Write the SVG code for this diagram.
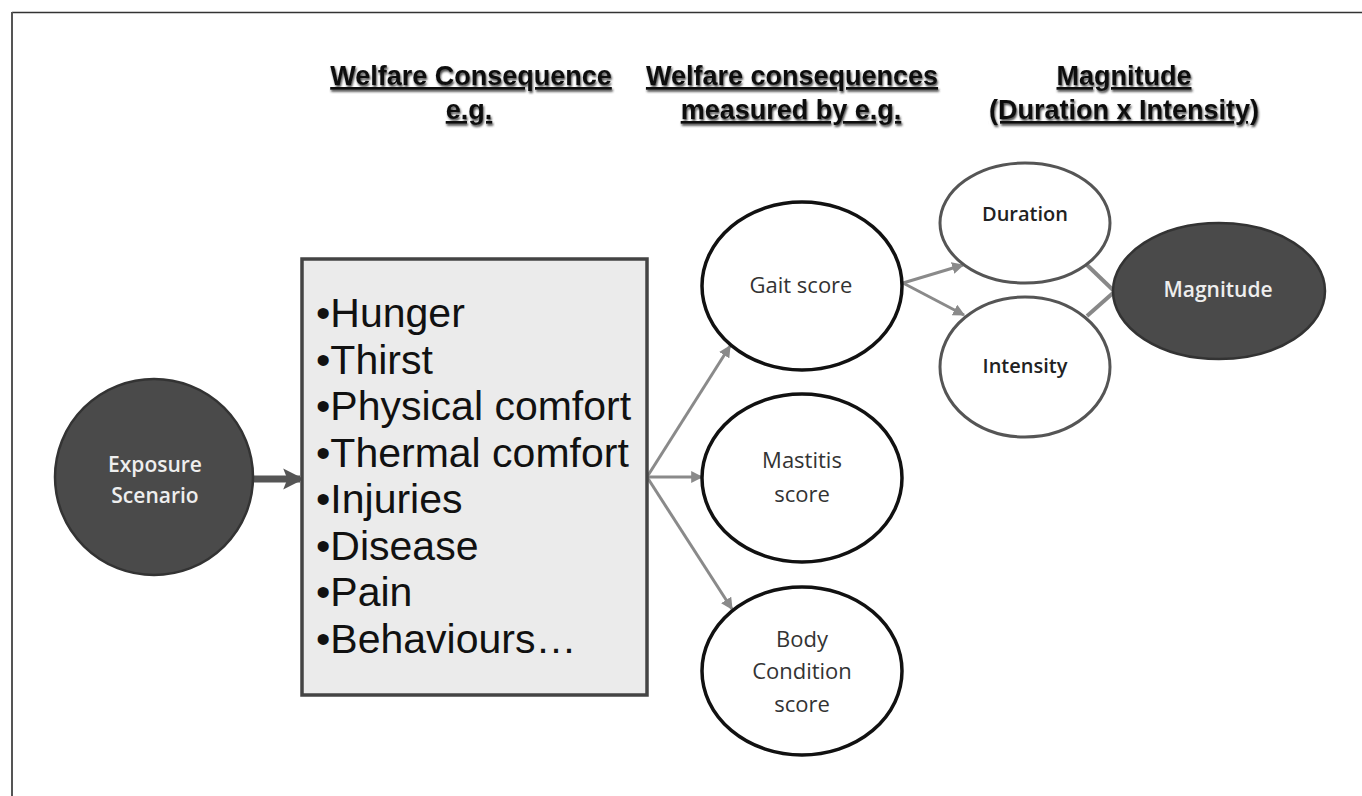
<svg xmlns="http://www.w3.org/2000/svg" width="1362" height="796" viewBox="0 0 1362 796">
<defs>
<style>
.hdr{font-family:"Liberation Sans",Arial,sans-serif;font-weight:bold;font-size:27px;fill:#111;text-anchor:middle;text-decoration:underline;filter:url(#sh)}
.lst{font-family:"Liberation Sans",Arial,sans-serif;font-size:41px;fill:#111}
.lbl{font-family:"Open Sans",sans-serif;font-size:22px;fill:#333;text-anchor:middle}
.lbl2{font-family:"Open Sans",sans-serif;font-size:20px;font-weight:600;fill:#222;text-anchor:middle}
.wht{font-family:"Open Sans",sans-serif;font-size:21px;font-weight:600;fill:#eee;text-anchor:middle}
.blk{fill:#fff;stroke:#111;stroke-width:3.5}
.gry{fill:#fff;stroke:#555;stroke-width:3}
.dark{fill:#4a4a4a;stroke:#333;stroke-width:2.5}
.con{stroke:#8a8a8a;stroke-width:3;fill:none}
</style>
<filter id="sh" x="-5%" y="-20%" width="110%" height="160%">
<feDropShadow dx="1" dy="2" stdDeviation="1.2" flood-color="#333" flood-opacity="0.9"/>
</filter>
<marker id="ah" viewBox="0 0 10 10" refX="9" refY="5" markerWidth="4" markerHeight="4" orient="auto" markerUnits="strokeWidth">
<path d="M0,0 L10,5 L0,10 z" fill="#8a8a8a"/>
</marker>
<marker id="ahb" viewBox="0 0 10 10" refX="8" refY="5" markerWidth="3" markerHeight="3.5" orient="auto" markerUnits="strokeWidth">
<path d="M0,0 L10,5 L0,10 L2,5 z" fill="#555"/>
</marker>
</defs>
<rect width="1362" height="796" fill="#fff"/>
<g id="frame">
<line x1="12" y1="12.5" x2="1362" y2="12.5" stroke="#333" stroke-width="1.5"/>
<line x1="12" y1="12" x2="12" y2="796" stroke="#555" stroke-width="2"/>
</g>
<g id="headers">
<text class="hdr" x="471" y="85">Welfare Consequence</text>
<text class="hdr" x="469" y="119">e.g.</text>
<text class="hdr" x="792" y="85">Welfare consequences</text>
<text class="hdr" x="791" y="119">measured by e.g.</text>
<text class="hdr" x="1124" y="85">Magnitude</text>
<text class="hdr" x="1124" y="119">(Duration x Intensity)</text>
</g>
<g id="connectors">
<line x1="253" y1="479" x2="300" y2="479" stroke="#555" stroke-width="7" marker-end="url(#ahb)"/>
<line class="con" x1="647" y1="477" x2="730" y2="346" marker-end="url(#ah)"/>
<line class="con" x1="647" y1="477" x2="702" y2="477" marker-end="url(#ah)"/>
<line class="con" x1="647" y1="477" x2="732" y2="609" marker-end="url(#ah)"/>
<line class="con" x1="903" y1="283" x2="963" y2="265" marker-end="url(#ah)"/>
<line class="con" x1="903" y1="283" x2="964" y2="315" marker-end="url(#ah)"/>
<line x1="1087" y1="265" x2="1113" y2="290" stroke="#888" stroke-width="4"/>
<line x1="1087" y1="316" x2="1113" y2="293" stroke="#888" stroke-width="4"/>
</g>
<g id="exposure">
<ellipse class="dark" cx="154" cy="477" rx="99" ry="98"/>
<text class="wht" x="155" y="472" font-size="22">Exposure</text>
<text class="wht" x="155" y="503" font-size="22">Scenario</text>
</g>
<g id="welfare-box">
<rect x="302" y="259" width="345" height="436" fill="#ebebeb" stroke="#444" stroke-width="3.5"/>
<text class="lst" x="316" y="327">•Hunger</text>
<text class="lst" x="316" y="374">•Thirst</text>
<text class="lst" x="316" y="420">•Physical comfort</text>
<text class="lst" x="316" y="467">•Thermal comfort</text>
<text class="lst" x="316" y="513">•Injuries</text>
<text class="lst" x="316" y="560">•Disease</text>
<text class="lst" x="316" y="606">•Pain</text>
<text class="lst" x="316" y="653">•Behaviours…</text>
</g>
<g id="gait">
<ellipse class="blk" cx="802" cy="286" rx="100" ry="84"/>
<text class="lbl" x="801" y="293">Gait score</text>
</g>
<g id="mastitis">
<ellipse class="blk" cx="802" cy="478" rx="100" ry="84"/>
<text class="lbl" x="802" y="468">Mastitis</text>
<text class="lbl" x="802" y="502">score</text>
</g>
<g id="body">
<ellipse class="blk" cx="802" cy="671" rx="100" ry="84"/>
<text class="lbl" x="802" y="647">Body</text>
<text class="lbl" x="802" y="679">Condition</text>
<text class="lbl" x="802" y="712">score</text>
</g>
<g id="duration">
<ellipse class="gry" cx="1025" cy="223" rx="85" ry="60"/>
<text class="lbl2" x="1025" y="221">Duration</text>
</g>
<g id="intensity">
<ellipse class="gry" cx="1025" cy="367" rx="85" ry="70"/>
<text class="lbl2" x="1025" y="373">Intensity</text>
</g>
<g id="magnitude">
<ellipse class="dark" cx="1219" cy="291" rx="106" ry="68"/>
<text class="wht" x="1218" y="297">Magnitude</text>
</g>
</svg>
